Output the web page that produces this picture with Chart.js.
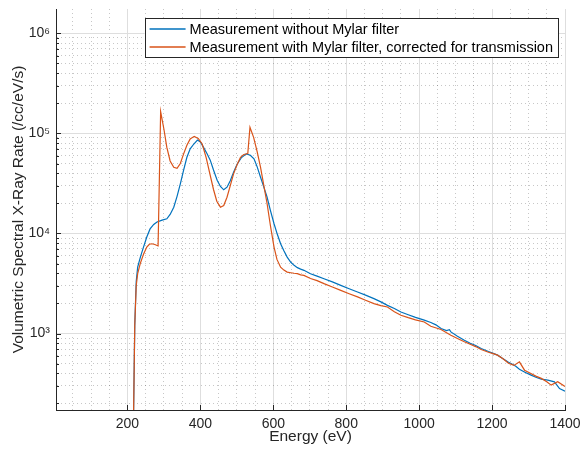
<!DOCTYPE html>
<html>
<head>
<meta charset="utf-8">
<script src="https://cdn.jsdelivr.net/npm/chart.js@4"></script>
<style>
  html, body { margin: 0; padding: 0; background: #fff; }
  #box { width: 581px; height: 452px; }
</style>
</head>
<body>
<div id="box"><canvas id="chart"></canvas></div>
<script>
// energy (eV) and rate (/cc/eV/s)
const energyNoFilter = [216, 220, 224, 228, 236, 244, 253, 262, 272, 281, 295, 308, 317, 327, 336, 345, 354, 363, 372, 382, 392, 400, 409, 418, 427, 436, 446, 455, 464, 473, 482, 491, 501, 512, 526, 537, 547, 556, 565, 574, 583, 592, 602, 611, 620, 629, 638, 648, 657, 666, 675, 684, 702, 720, 739, 762, 785, 808, 831, 853, 876, 895, 913, 932, 950, 970, 990, 1014, 1032, 1046, 1060, 1075, 1083, 1087, 1105, 1124, 1140, 1155, 1170, 1190, 1205, 1215, 1230, 1245, 1252, 1265, 1275, 1290, 1307, 1320, 1335, 1353, 1371, 1385, 1400];
const rateNoFilter = [100, 1200, 3300, 4600, 5900, 7300, 9200, 11100, 12300, 13000, 13600, 14000, 15500, 18300, 23500, 31300, 43000, 57700, 70000, 78300, 85900, 82000, 72000, 63000, 54000, 43000, 34000, 29500, 27300, 29000, 33700, 41000, 49500, 57000, 62400, 60500, 55600, 46000, 36400, 29000, 23000, 17000, 12500, 9800, 7880, 6700, 5800, 5150, 4800, 4550, 4400, 4280, 3960, 3750, 3530, 3280, 3030, 2800, 2600, 2420, 2230, 2070, 1910, 1780, 1640, 1540, 1450, 1360, 1288, 1220, 1120, 1070, 1090, 1037, 940, 858, 800, 760, 708, 660, 630, 608, 560, 515, 502, 470, 440, 410, 384, 365, 350, 342, 329, 282, 265];

const energyMylar = [216, 220, 224, 228, 235, 244, 253, 260, 267, 275, 284, 291, 300, 308, 317, 327, 336, 345, 354, 363, 372, 383, 394, 405, 416, 427, 436, 445, 455, 464, 473, 482, 491, 501, 510, 519, 530, 536, 546, 556, 565, 574, 583, 592, 602, 610, 620, 629, 638, 648, 657, 666, 675, 684, 702, 720, 739, 762, 785, 808, 831, 853, 876, 895, 913, 932, 950, 970, 990, 1014, 1032, 1060, 1087, 1105, 1124, 1140, 1155, 1170, 1190, 1205, 1215, 1230, 1245, 1260, 1275, 1289, 1305, 1320, 1335, 1350, 1362, 1380, 1400];
const rateMylar = [100, 1200, 3000, 3960, 4990, 6200, 7300, 7800, 7890, 7750, 7500, 165000, 110000, 72400, 53000, 45800, 44800, 50000, 62400, 76000, 87900, 93400, 89000, 78300, 57000, 38000, 27500, 21000, 18300, 19000, 23000, 30000, 39400, 49000, 57700, 61500, 62800, 115000, 91200, 65000, 45800, 30000, 19800, 12000, 7300, 5500, 4600, 4300, 4110, 4050, 4000, 3960, 3850, 3810, 3550, 3380, 3150, 2920, 2700, 2500, 2320, 2150, 1990, 1900, 1840, 1650, 1520, 1440, 1370, 1305, 1183, 1096, 962, 890, 826, 780, 740, 692, 650, 625, 608, 560, 505, 480, 521, 430, 400, 375, 356, 330, 305, 330, 295];

const xTickLabels = [200, 400, 600, 800, 1000, 1200, 1400];
const yTickLabels = { 1000: "10³", 10000: "10⁴", 100000: "10⁵", 1000000: "10⁶" };
const seriesNames = ["Measurement without Mylar filter", "Measurement with Mylar filter, corrected for transmission"];

const blue = "#0072BD";
const orange = "#D95319";
const axisColor = "#262626";
const majorGrid = "#dedede";
const minorGrid = "rgba(0,0,0,0.22)";

const X_MIN = 4, X_MAX = 1400, Y_MIN = 172, Y_MAX = 1.75e6;

function toPoints(xs, ys) {
  return xs.map((x, i) => ({ x: x, y: ys[i] }));
}

function isMajorX(v) { return xTickLabels.includes(v); }
function isMajorY(v) { return yTickLabels[v] !== undefined; }

// MATLAB style legend box inside the axes
const boxLegend = {
  id: "boxLegend",
  afterDraw(chart) {
    const ctx = chart.ctx;
    const area = chart.chartArea;
    ctx.save();
    ctx.font = "14.5px 'Liberation Sans', Arial, sans-serif";
    const textW = Math.max(...seriesNames.map(t => ctx.measureText(t).width));
    const w = 5 + 36 + 4 + textW + 5;
    const h = 39;
    const right = area.right - 7;
    const left = right - w;
    const top = area.top + 9;
    ctx.fillStyle = "#fff";
    ctx.fillRect(left, top, w, h);
    ctx.strokeStyle = axisColor;
    ctx.lineWidth = 1;
    ctx.strokeRect(Math.round(left) + 0.5, Math.round(top) + 0.5, Math.round(w), h);
    const colors = [blue, orange];
    seriesNames.forEach((name, i) => {
      const y = top + 11 + i * 18;
      ctx.strokeStyle = colors[i];
      ctx.lineWidth = 1.3;
      ctx.beginPath();
      ctx.moveTo(left + 5, y);
      ctx.lineTo(left + 41, y);
      ctx.stroke();
      ctx.fillStyle = "#000";
      ctx.textBaseline = "middle";
      ctx.fillText(name, left + 45, y + 0.5);
    });
    ctx.restore();
  }
};

// inward tick marks on the left and bottom axes
const innerTicks = {
  id: "innerTicks",
  afterDraw(chart) {
    const ctx = chart.ctx;
    const xs = chart.scales.x, ys = chart.scales.y;
    ctx.save();
    ctx.strokeStyle = axisColor;
    ctx.lineWidth = 1;
    ctx.beginPath();
    ys.ticks.forEach(t => {
      const py = Math.round(ys.getPixelForValue(t.value)) + 0.5;
      const len = isMajorY(t.value) ? 5 : 3;
      ctx.moveTo(xs.left, py);
      ctx.lineTo(xs.left + len, py);
    });
    xTickLabels.forEach(v => {
      const px = Math.round(xs.getPixelForValue(v)) + 0.5;
      ctx.moveTo(px, ys.bottom);
      ctx.lineTo(px, ys.bottom - 5);
    });
    ctx.stroke();
    ctx.restore();
  }
};

Chart.defaults.font.family = "'Liberation Sans', Arial, sans-serif";
Chart.defaults.color = axisColor;

new Chart(document.getElementById("chart"), {
  type: "line",
  data: {
    datasets: [
      {
        label: seriesNames[0],
        data: toPoints(energyNoFilter, rateNoFilter),
        borderColor: blue,
        backgroundColor: blue,
        borderWidth: 1.2,
        pointRadius: 0,
        order: 1
      },
      {
        label: seriesNames[1],
        data: toPoints(energyMylar, rateMylar),
        borderColor: orange,
        backgroundColor: orange,
        borderWidth: 1.2,
        pointRadius: 0,
        order: 0
      }
    ]
  },
  options: {
    responsive: true,
    maintainAspectRatio: false,
    animation: false,
    layout: { padding: { left: 0, right: 16, top: 9, bottom: 0 } },
    plugins: {
      legend: { display: false },
      tooltip: { enabled: false }
    },
    scales: {
      x: {
        type: "linear",
        min: X_MIN,
        max: X_MAX,
        afterBuildTicks: scale => {
          const t = [];
          for (let v = 50; v <= X_MAX; v += 50) t.push({ value: v });
          scale.ticks = t;
        },
        afterFit: scale => {
          scale.height = 42;
          scale.paddingLeft = 0;
          scale.paddingRight = 0;
        },
        ticks: {
          autoSkip: false,
          maxRotation: 0,
          padding: 6,
          font: { size: 14 },
          color: axisColor,
          callback: v => isMajorX(v) ? String(v) : ""
        },
        grid: {
          drawTicks: false,
          color: c => (c.tick && isMajorX(c.tick.value)) ? majorGrid : minorGrid,
          lineWidth: 1
        },
        border: {
          color: axisColor,
          width: 1,
          dash: c => (c.tick && !isMajorX(c.tick.value)) ? [1, 3] : []
        },
        title: {
          display: true,
          text: "Energy (eV)",
          font: { size: 15.5 },
          color: axisColor,
          padding: { top: 0, bottom: 6 }
        }
      },
      y: {
        type: "logarithmic",
        min: Y_MIN,
        max: Y_MAX,
        afterBuildTicks: scale => {
          const t = [];
          for (let e = 2; e <= 6; e++) {
            for (let m = 1; m <= 9; m++) {
              const v = m * Math.pow(10, e);
              if (v >= Y_MIN && v <= Y_MAX) t.push({ value: v });
            }
          }
          scale.ticks = t;
        },
        afterFit: scale => {
          scale.width = 56;
          scale.paddingTop = 0;
          scale.paddingBottom = 0;
        },
        ticks: {
          autoSkip: false,
          padding: 6,
          font: { size: 14 },
          color: axisColor,
          callback: v => isMajorY(v) ? yTickLabels[v] : ""
        },
        grid: {
          drawTicks: false,
          color: c => (c.tick && isMajorY(c.tick.value)) ? majorGrid : minorGrid,
          lineWidth: 1
        },
        border: {
          color: axisColor,
          width: 1,
          dash: c => (c.tick && !isMajorY(c.tick.value)) ? [1, 3] : []
        },
        title: {
          display: true,
          text: "Volumetric Spectral X-Ray Rate (/cc/eV/s)",
          font: { size: 15.5 },
          color: axisColor,
          padding: { top: 9, bottom: 0 }
        }
      }
    }
  },
  plugins: [innerTicks, boxLegend]
});
</script>
</body>
</html>
